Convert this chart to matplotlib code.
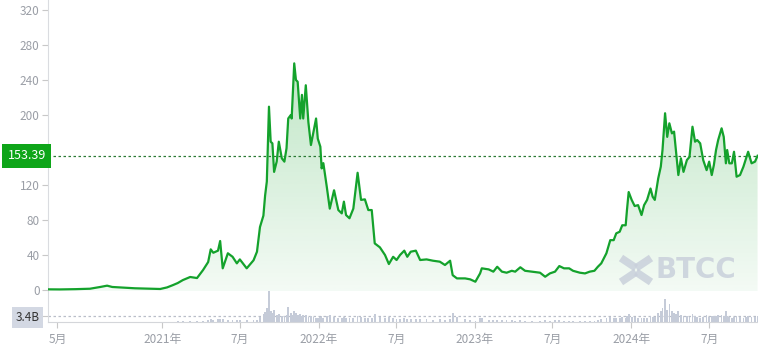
import matplotlib.pyplot as plt
import matplotlib.dates as mdates
import matplotlib.transforms as mtransforms
from matplotlib.patches import Polygon
import numpy as np
import pandas as pd

plt.rcParams['font.family'] = ['Noto Sans CJK SC', 'DejaVu Sans']

# 价格数据
dates = [
    '2020-04-09', '2020-05-07', '2020-06-12', '2020-07-16', '2020-08-09', '2020-08-25',
    '2020-09-06', '2020-09-25', '2020-10-29', '2020-12-03', '2020-12-27', '2021-01-12',
    '2021-01-26', '2021-02-06', '2021-02-18', '2021-03-07', '2021-03-23', '2021-04-06',
    '2021-04-18', '2021-04-24', '2021-04-30', '2021-05-11', '2021-05-16', '2021-05-22',
    '2021-06-03', '2021-06-14', '2021-06-24', '2021-07-01', '2021-07-17', '2021-08-02',
    '2021-08-10', '2021-08-17', '2021-08-25', '2021-08-29', '2021-09-02', '2021-09-07',
    '2021-09-11', '2021-09-15', '2021-09-19', '2021-09-25', '2021-09-30', '2021-10-07',
    '2021-10-13', '2021-10-18', '2021-10-22', '2021-10-28', '2021-10-30', '2021-11-05',
    '2021-11-09', '2021-11-13', '2021-11-19', '2021-11-23', '2021-11-26', '2021-12-02',
    '2021-12-08', '2021-12-14', '2021-12-20', '2021-12-26', '2021-12-30', '2022-01-05',
    '2022-01-08', '2022-01-12', '2022-01-20', '2022-01-27', '2022-02-06', '2022-02-16',
    '2022-02-24', '2022-03-01', '2022-03-06', '2022-03-14', '2022-03-23', '2022-04-02',
    '2022-04-10', '2022-04-19', '2022-04-27', '2022-05-05', '2022-05-12', '2022-05-24',
    '2022-06-05', '2022-06-14', '2022-06-24', '2022-07-02', '2022-07-10', '2022-07-20',
    '2022-07-27', '2022-08-04', '2022-08-16', '2022-08-26', '2022-09-10', '2022-09-25',
    '2022-10-11', '2022-10-23', '2022-11-04', '2022-11-10', '2022-11-20', '2022-12-09',
    '2022-12-21', '2023-01-02', '2023-01-13', '2023-01-17', '2023-02-02', '2023-02-13',
    '2023-02-22', '2023-03-05', '2023-03-16', '2023-03-28', '2023-04-05', '2023-04-17',
    '2023-04-28', '2023-05-14', '2023-06-02', '2023-06-14', '2023-06-25', '2023-07-07',
    '2023-07-17', '2023-07-28', '2023-08-09', '2023-08-18', '2023-09-03', '2023-09-15',
    '2023-09-26', '2023-10-07', '2023-10-15', '2023-10-23', '2023-11-04', '2023-11-13',
    '2023-11-21', '2023-11-27', '2023-12-05', '2023-12-11', '2023-12-19', '2023-12-22',
    '2023-12-26', '2024-01-02', '2024-01-09', '2024-01-17', '2024-01-25', '2024-01-31',
    '2024-02-07', '2024-02-15', '2024-02-20', '2024-02-25', '2024-03-04', '2024-03-10',
    '2024-03-14', '2024-03-20', '2024-03-25', '2024-03-30', '2024-04-05', '2024-04-10',
    '2024-04-15', '2024-04-20', '2024-04-26', '2024-05-02', '2024-05-10', '2024-05-16',
    '2024-05-23', '2024-05-29', '2024-06-03', '2024-06-10', '2024-06-17', '2024-06-25',
    '2024-07-01', '2024-07-07', '2024-07-12', '2024-07-17', '2024-07-22', '2024-07-30',
    '2024-08-04', '2024-08-09', '2024-08-12', '2024-08-17', '2024-08-23', '2024-08-28',
    '2024-09-03', '2024-09-11', '2024-09-19', '2024-09-25', '2024-09-30', '2024-10-08',
    '2024-10-16', '2024-10-22',
]
prices = [
    0.8, 0.7, 1.0, 1.5, 3.5, 5.0, 3.5, 3.0, 2.0, 1.5, 1.2, 3.0,
    5.7, 8.0, 11.4, 14.9, 13.7, 22.8, 32.0, 46.5, 42.6, 45.0, 56.0, 24.8,
    42.0, 38.0, 30.5, 35.0, 24.8, 34.0, 43.8, 72.0, 85.0, 108.0, 124.0, 209.5,
    169.5, 167.6, 135.0, 146.7, 169.5, 150.5, 146.7, 162.0, 196.0, 200.0, 196.0, 259.0,
    240.0, 238.0, 196.0, 223.0, 196.0, 234.0, 192.0, 165.7, 181.0, 196.0, 173.0, 163.8,
    139.0, 145.0, 118.0, 93.0, 114.0, 91.4, 87.6, 101.0, 85.7, 82.0, 93.0, 134.0,
    103.0, 103.6, 91.4, 91.4, 53.3, 48.8, 40.0, 29.7, 38.0, 34.3, 40.0, 45.0,
    38.0, 43.8, 45.0, 34.3, 35.0, 33.5, 32.4, 28.6, 33.5, 17.0, 13.3, 13.3,
    12.2, 9.5, 19.0, 24.8, 23.6, 21.0, 26.6, 21.0, 19.8, 22.0, 21.0, 26.0,
    22.0, 21.0, 19.8, 15.2, 19.0, 21.0, 27.4, 24.8, 24.8, 22.0, 19.8, 19.0,
    21.0, 22.0, 26.6, 30.5, 42.0, 57.0, 57.0, 64.8, 66.6, 74.0, 74.0, 91.4,
    112.0, 103.0, 96.0, 97.0, 85.7, 97.0, 103.0, 116.0, 106.6, 103.0, 127.6, 141.0,
    160.0, 202.0, 175.0, 190.5, 179.0, 181.0, 156.0, 131.4, 150.5, 135.0, 148.6, 152.0,
    186.6, 169.5, 171.4, 167.6, 148.6, 137.0, 146.7, 131.4, 143.0, 160.0, 171.4, 184.8,
    175.0, 144.8, 160.0, 144.8, 144.8, 158.0, 129.5, 131.4, 141.0, 150.5, 158.0, 144.8,
    146.7, 153.39,
]
# 成交量（十亿）
volumes = [
    0.05, 0.05, 0.05, 0.08, 0.1, 0.15, 0.1, 0.08, 0.06, 0.06, 0.05, 0.15, 0.2, 0.3, 0.35, 0.4, 0.3,
    0.8, 1.2, 1.6, 1.4, 1.5, 1.7, 1.6, 1.2, 1.0, 0.9, 0.9, 1.0, 1.3, 1.4,
    3.0, 4.5, 5.5, 8.0, 17.5,
    6.0, 5.0, 7.0, 4.0, 4.5, 3.5, 3.5, 4.0, 8.5, 5.0, 4.0,
    6.0, 5.0, 4.0, 4.5, 3.5, 4.0, 4.0, 3.0, 3.5, 3.0, 2.5, 2.5,
    3.0, 3.5, 2.5, 3.5, 4.0, 3.0, 2.5, 2.5, 3.0, 2.5, 2.0, 2.5, 3.5, 3.0, 2.5, 2.0, 2.5,
    4.5, 3.0, 2.5, 3.0, 2.0, 1.8, 1.8, 2.0, 1.7, 1.7, 1.6, 1.8, 1.6, 1.4, 1.5, 1.4, 1.6,
    5.0, 3.0, 1.5, 1.0, 0.8,
    2.5, 2.0, 1.2, 1.0, 1.2, 1.0, 1.0, 0.9, 0.8, 1.0, 0.8, 0.7, 0.8, 0.9, 0.7, 1.0, 1.3,
    0.8, 0.7, 0.7, 0.6, 0.6, 0.7, 0.7, 1.2, 1.6,
    2.5, 3.0, 2.2, 2.5, 2.3, 2.6, 2.5, 3.5, 4.5, 3.0, 2.8, 2.4, 2.5, 2.2, 2.5, 3.5, 3.0, 3.0,
    5.0, 6.0, 8.0, 13.0, 7.0, 10.5, 6.0, 5.0, 4.5, 6.0,
    4.0, 3.5, 3.5, 3.0, 4.5, 3.5, 3.0, 2.5, 3.0, 4.0, 2.8, 3.5, 3.2, 3.5, 3.8, 3.8, 3.2, 6.0,
    3.5, 2.8, 2.5, 3.0, 3.5, 2.8, 2.5, 2.8, 3.2, 3.0, 2.8, 3.4,
]
tick_dates = ['2020-05-01', '2021-01-01', '2021-07-01', '2022-01-01', '2022-07-01',
              '2023-01-01', '2023-07-01', '2024-01-01', '2024-07-01']
tick_labels = ['5月', '2021年', '7月', '2022年', '7月', '2023年', '7月', '2024年', '7月']
price_ticks = [0, 40, 80, 120, 160, 200, 240, 280, 320]
last_price = 153.39
last_volume = 3.4

x = pd.to_datetime(dates)
xn = mdates.date2num(x)
green = '#14a22c'
gray_txt = '#9a9ea6'

fig = plt.figure(figsize=(7.58, 3.49), dpi=100)
ax = fig.add_axes([48 / 758, 1 - 291 / 349, 710 / 758, 291 / 349])
axv = fig.add_axes([48 / 758, 1 - 322 / 349, 710 / 758, 31 / 349], sharex=ax)

xlim = (mdates.date2num(pd.Timestamp('2020-04-09')), mdates.date2num(pd.Timestamp('2024-10-23')))
ax.set_xlim(xlim)
ax.set_ylim(-1.1, 331.4)

# 渐变填充
poly = Polygon(np.column_stack([np.r_[xn[0], xn, xn[-1]], np.r_[-1.1, prices, -1.1]]),
               closed=True, facecolor='none', edgecolor='none')
ax.add_patch(poly)
grad = np.zeros((256, 1, 4))
grad[:, 0, 0] = 20 / 255
grad[:, 0, 1] = 162 / 255
grad[:, 0, 2] = 44 / 255
grad[:, 0, 3] = np.linspace(0.05, 0.28, 256)
img = ax.imshow(grad, extent=[xlim[0], xlim[1], -1.1, 270], aspect='auto', origin='lower', zorder=1)
img.set_clip_path(poly)

ax.plot(xn, prices, color=green, lw=1.6, zorder=3, solid_joinstyle='round')
ax.axhline(last_price, color='#2b7a35', lw=0.9, ls=(0, (2, 2)), zorder=2)

for s in ['top', 'right', 'bottom']:
    ax.spines[s].set_visible(False)
ax.spines['left'].set_color('#dadce0')
ax.set_yticks(price_ticks)
# 160 被最新价标签遮住
ax.set_yticklabels(['' if v == 160 else str(v) for v in price_ticks])
ax.tick_params(axis='y', colors='#c8c8c8', labelcolor=gray_txt, labelsize=8.5, length=4, pad=2)
ax.tick_params(axis='x', bottom=False, labelbottom=False)

trans = mtransforms.blended_transform_factory(ax.transAxes, ax.transData)
ax.text(-0.003, last_price, '153.39', transform=trans, ha='right', va='center',
        color='white', fontsize=9, clip_on=False, zorder=10,
        bbox=dict(boxstyle='square,pad=0.42', fc='#0ea519', ec='none'))

# 水印
fig.text(655 / 758, 1 - 270 / 349, 'BTCC', fontsize=20, fontweight='bold', color='#c9d0db',
         alpha=0.85, ha='left', va='center', family=['DejaVu Sans'])
for (x0, y0, x1, y1) in [(621, 258, 636, 268), (651, 258, 636, 268),
                         (621, 282, 636, 272), (651, 282, 636, 272)]:
    fig.add_artist(plt.Line2D([x0 / 758, x1 / 758], [1 - y0 / 349, 1 - y1 / 349],
                              color='#c9d0db', lw=5.5, alpha=0.85, solid_capstyle='butt'))

# 成交量
axv.bar(x, volumes, width=4, color='#c5cbd8', zorder=2)
axv.set_ylim(0, 17.6)
axv.axhline(last_volume, color='#b9bec8', lw=0.9, ls=(0, (2, 2)), zorder=1)
for s in ['top', 'right']:
    axv.spines[s].set_visible(False)
axv.spines['left'].set_color('#dadce0')
axv.spines['bottom'].set_color('#d4d6da')
axv.set_yticks([last_volume])
axv.set_yticklabels(['3.4B'])
axv.tick_params(axis='y', colors='#c8c8c8', labelcolor='#333333', labelsize=8.5, length=4, pad=2)
for lab in axv.get_yticklabels():
    lab.set_bbox(dict(boxstyle='square,pad=0.3', fc='#d3d8e3', ec='none'))
axv.set_xticks(mdates.date2num(pd.to_datetime(tick_dates)))
axv.set_xticklabels(tick_labels)
axv.tick_params(axis='x', colors='#c8c8c8', labelcolor=gray_txt, labelsize=8.5, length=4, pad=4)

fig.savefig('out.png', dpi=100)
